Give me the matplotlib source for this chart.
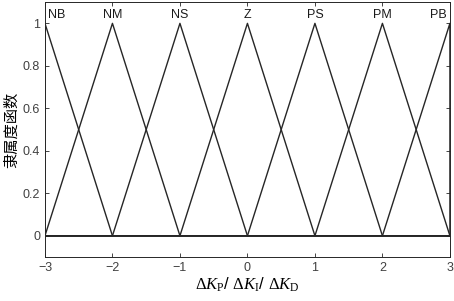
import numpy as np
import matplotlib
matplotlib.use('Agg')
import matplotlib.pyplot as plt

plt.rcParams['font.family'] = ['Liberation Sans', 'DejaVu Sans']
plt.rcParams['mathtext.fontset'] = 'custom'
plt.rcParams['mathtext.rm'] = 'Liberation Serif'
plt.rcParams['mathtext.it'] = 'Liberation Serif:italic'

# 模糊子集和三角形隶属函数的顶点
names = ['NB', 'NM', 'NS', 'Z', 'PS', 'PM', 'PB']
centers = [-3, -2, -1, 0, 1, 2, 3]
label_x = [-2.83, -2, -1, 0, 1, 2, 2.83]
width = 1
x_range = [-3, 3]

fig = plt.figure(figsize=(4.54, 3.01), dpi=100)
ax = fig.add_axes([0.099, 0.146, 0.892, 0.847])

for name, c, lx in zip(names, centers, label_x):
    xs = [x_range[0], c - width, c, c + width, x_range[1]]
    ys = [0, 0, 1, 0, 0]
    xs = np.clip(xs, x_range[0], x_range[1])
    ax.plot(xs, ys, color='#262626', lw=1.0)
    ax.text(lx, 1.04, name, ha='center', va='center', fontsize=9, color='#1a1a1a')

ax.set_xlim(-3, 3)
ax.set_ylim(-0.1, 1.1)
ax.set_xticks(centers)
ax.set_yticks([0, 0.2, 0.4, 0.6, 0.8, 1])
ax.set_yticklabels(['0', '0.2', '0.4', '0.6', '0.8', '1'])
ax.tick_params(direction='in', top=True, right=True, labelsize=9, colors='#262626',
               labelcolor='#404040', length=3, width=0.6)
for s in ax.spines.values():
    s.set_color('#262626')
    s.set_linewidth(0.7)

ax.set_xlabel(r'$\mathit{\Delta K}_{\mathrm{P}}$/ $\mathit{\Delta K}_{\mathrm{I}}$/ $\mathit{\Delta K}_{\mathrm{D}}$',
              fontsize=12, labelpad=1)
ax.set_ylabel('隶属度函数', family=['Noto Sans CJK SC', 'DejaVu Sans'], fontsize=11, labelpad=2)

fig.savefig('out.png', dpi=100)
